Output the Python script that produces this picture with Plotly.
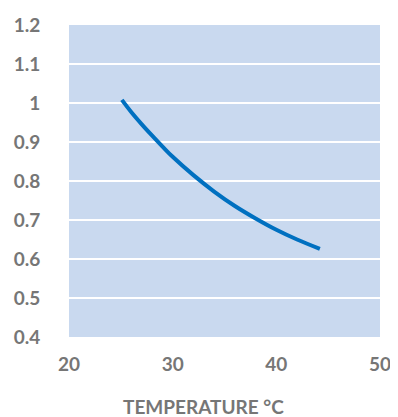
import plotly.graph_objects as go

# values
temperature = [25.1, 26, 27, 28, 29, 30, 32, 34, 36, 38, 40, 42, 44.2]
ratio = [1.008, 0.977, 0.946, 0.917, 0.889, 0.862, 0.815, 0.773, 0.736, 0.704, 0.675, 0.650, 0.626]

x_ticks = [20, 30, 40, 50]
y_ticks = [0.4, 0.5, 0.6, 0.7, 0.8, 0.9, 1.0, 1.1, 1.2]
y_labels = ["0.4", "0.5", "0.6", "0.7", "0.8", "0.9", "1", "1.1", "1.2"]

grey = "#767676"
font = "Lato"

fig = go.Figure()
fig.add_trace(go.Scatter(x=temperature, y=ratio, mode="lines",
                         line=dict(color="#0070C0", width=4, shape="spline"),
                         showlegend=False, hoverinfo="skip"))

fig.update_xaxes(range=[20, 50], tickvals=x_ticks, showgrid=False, zeroline=False,
                 showline=False, ticks="outside", ticklen=10, tickcolor="rgba(0,0,0,0)",
                 automargin=False,
                 tickfont=dict(family=font, size=19, color=grey, weight="bold"))
fig.update_yaxes(range=[0.4, 1.2], tickvals=y_ticks, ticktext=y_labels,
                 showgrid=True, gridcolor="white", gridwidth=1.5, zeroline=False,
                 showline=False, ticks="outside", ticklen=24, tickcolor="rgba(0,0,0,0)",
                 automargin=False,
                 tickfont=dict(family=font, size=19, color=grey, weight="bold"))

fig.add_annotation(text="TEMPERATURE °C", xref="paper", yref="paper",
                   x=0.434, y=-0.18, yanchor="top", showarrow=False,
                   font=dict(family=font, size=19, color=grey, weight="bold"))

# page body keeps the browser's 8px margin, so the figure is sized to fit inside it
fig.update_layout(width=390, height=409, margin=dict(l=61, r=18, t=17, b=80),
                  plot_bgcolor="#C9D9EF", paper_bgcolor="white")

fig.write_html("out.html")
